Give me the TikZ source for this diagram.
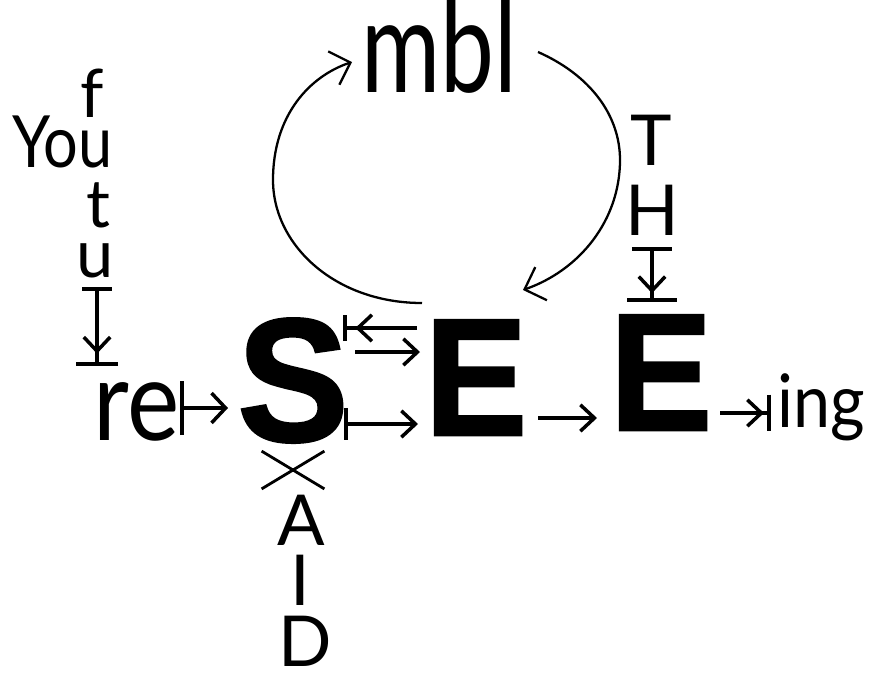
\documentclass[tikz,border=0pt]{standalone}
\usepackage{fontspec}
\setmainfont{Lato}
\newfontfamily\heavy{Liberation Sans}[BoldFeatures={FakeBold=1.5}]
\usetikzlibrary{arrows.meta,shapes.misc}
\newcommand{\fs}[1]{\fontsize{#1}{#1}\selectfont}
\newcommand{\nar}[2][0.85]{\scalebox{#1}[1]{#2}}
\tikzset{
  word/.style={inner sep=0pt, anchor=base},
  big/.style={word, font=\heavy\bfseries\fs{#1}},
  arr/.style={line width=2pt, -{Straight Barb[length=8pt,width=15pt]}},
  loopy/.style={line width=1.3pt, -{Straight Barb[length=10pt,width=20pt]}},
}
\begin{document}
\begin{tikzpicture}[x=0.02cm, y=-0.02cm]
\useasboundingbox (0,0) rectangle (869,673);
% left column
\node[word, anchor=base west, font=\fs{41pt}] (you) at (12,167) {\nar{You}};
\node[word, font=\fs{38pt}] (f) at (92,117) {f};
\node[word, font=\fs{38pt}] (t) at (98,227) {t};
\node[word, font=\fs{38pt}] (u) at (95,277) {u};
\node[word, anchor=base west, font=\fs{64pt}] (re) at (93,440) {\nar[0.88]{re}};
% the big letters
\node[big=100pt] (S) at (293,441) {\nar[0.95]{S}};
\node[big=95pt] (E1) at (476,435) {\nar[0.92]{E}};
\node[big=95pt] (E2) at (661,430) {\nar[0.92]{E}};
\node[word, anchor=base west, font=\fs{42pt}] (ing) at (777,427) {\nar[0.9]{ing}};
% top
\node[word, anchor=base west, font=\fs{74pt}] (mbl) at (361,92) {\nar[0.74]{mbl}};
\node[word, font=\fs{40pt}] (T) at (651,165) {T};
\node[word, font=\fs{40pt}] (H) at (652,235) {H};
% below S
\node[cross out, draw, line width=1.6pt, inner sep=0pt,
      minimum width=1.2cm, minimum height=0.7cm] (X) at (293,470) {};
\node[word, font=\fs{40pt}] (A) at (301,545) {A};
\node[word, font=\fs{40pt}] (I) at (300,605) {I};
\node[word, font=\fs{40pt}] (D) at (305,666) {D};
% arrow ends
\coordinate (uA) at (97,287);   \coordinate (uB) at (97,366);
\coordinate (reA) at (180,408); \coordinate (reB) at (228,408);
\coordinate (sA) at (417,328);  \coordinate (sB) at (343,328);
\coordinate (sC) at (355,352);  \coordinate (sD) at (420,352);
\coordinate (sE) at (344,424);  \coordinate (sF) at (418,424);
\coordinate (eA) at (538,418);  \coordinate (eB) at (597,418);
\coordinate (eC) at (720,413);  \coordinate (eD) at (771,413);
\coordinate (hA) at (652,247);  \coordinate (hB) at (652,302);
\coordinate (lA) at (422,303);  \coordinate (lB) at (352,62);
\coordinate (rA) at (538,52);   \coordinate (rB) at (523,290);
\draw[line width=2pt, {Bar[width=17pt]}-{Straight Barb[length=8pt,width=15pt,sep=5pt] Bar[width=24pt]}] (uA) -- (uB);
\draw[arr, {Bar[width=31pt]}-{Straight Barb[length=8pt,width=17pt]}] (reA) -- (reB);
\draw[line width=2pt, -{Straight Barb[length=8pt,width=15pt,sep=5pt] Bar[width=15pt]}] (sA) -- (sB);
\draw[arr] (sC) -- (sD);
\draw[arr, {Bar[width=18pt]}-{Straight Barb[length=8pt,width=15pt]}] (sE) -- (sF);
\draw[arr] (eA) -- (eB);
\draw[line width=2pt, -{Straight Barb[length=8pt,width=15pt,sep=2pt] Bar[width=21pt]}] (eC) -- (eD);
\draw[line width=2pt, {Bar[width=23pt]}-{Straight Barb[length=8pt,width=15pt,sep=3pt] Bar[width=28pt]}] (hA) -- (hB);
% the loop round mbl
\draw[loopy] (lA) .. controls (335,303) and (273,245) .. (273,180)
  .. controls (273,115) and (310,76) .. (lB);
\draw[loopy] (rA) .. controls (590,75) and (620,115) .. (620,160)
  .. controls (620,220) and (580,270) .. (rB);
\end{tikzpicture}
\end{document}
